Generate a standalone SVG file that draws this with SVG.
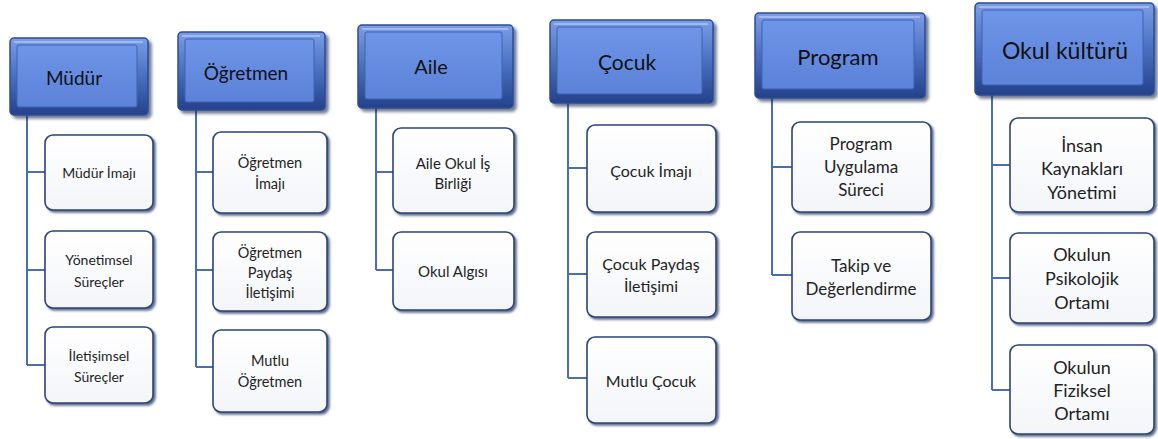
<svg xmlns="http://www.w3.org/2000/svg" width="1158" height="439" viewBox="0 0 1158 439">
<defs>
<linearGradient id="edge" x1="0" y1="0" x2="0" y2="1">
<stop offset="0" stop-color="#7c9de6"/>
<stop offset="0.5" stop-color="#4a6fc0"/>
<stop offset="1" stop-color="#24418a"/>
</linearGradient>
<linearGradient id="face" x1="0" y1="0" x2="0" y2="1">
<stop offset="0" stop-color="#6f95e8"/>
<stop offset="1" stop-color="#5c82d9"/>
</linearGradient>
<linearGradient id="card" x1="0" y1="0" x2="0" y2="1">
<stop offset="0" stop-color="#ffffff"/>
<stop offset="1" stop-color="#f3f5f9"/>
</linearGradient>
<filter id="sh" x="-10%" y="-10%" width="125%" height="125%">
<feDropShadow dx="2" dy="2" stdDeviation="1.2" flood-color="#1c2f5c" flood-opacity="0.7"/>
</filter>
<filter id="hsh" x="-10%" y="-10%" width="125%" height="130%">
<feDropShadow dx="3" dy="3" stdDeviation="1.5" flood-color="#17264a" flood-opacity="0.6"/>
</filter>
</defs>
<style>
.hout{fill:url(#edge);stroke:#2b4c95;stroke-width:1.5;filter:url(#hsh)}
.hin{fill:url(#face);stroke:#3f62b3;stroke-width:1}
.hl{stroke:#b6ccf5;stroke-width:1.5;fill:none;opacity:.85}
.ht{font-family:Lato,"Open Sans","Liberation Sans",sans-serif;fill:#111;text-anchor:middle;dominant-baseline:central}
.card{fill:url(#card);stroke:#2b4476;stroke-width:1.6;filter:url(#sh)}
.ct{font-family:Lato,"Open Sans","Liberation Sans",sans-serif;fill:#1f1f1f;text-anchor:middle;dominant-baseline:central}
.con{stroke:#4a6db3;stroke-width:2;fill:none}
</style>
<rect width="1158" height="439" fill="#ffffff"/>

<g id="connectors">
<path class="con" d="M27 115 V365 M27 172 H45 M27 270 H45 M27 365 H45"/>
<path class="con" d="M196 110 V367 M196 172 H213 M196 270 H213 M196 367 H213"/>
<path class="con" d="M376 108 V270 M376 172 H393 M376 270 H393"/>
<path class="con" d="M568 103 V378 M568 168 H587 M568 274 H587 M568 378 H587"/>
<path class="con" d="M772 98 V275 M772 167 H792 M772 275 H792"/>
<path class="con" d="M992 95 V390 M992 165 H1010 M992 278 H1010 M992 390 H1010"/>
</g>

<g id="h-mudur">
<rect class="hout" x="10" y="38" width="138" height="77" rx="4"/>
<rect class="hin" x="17" y="45" width="120" height="62" rx="2"/>
<path class="hl" d="M14 42 H143"/>
<text class="ht" x="74" y="77" font-size="19">Müdür</text>
</g>
<g id="h-ogretmen">
<rect class="hout" x="178" y="32" width="147" height="78" rx="4"/>
<rect class="hin" x="185" y="39" width="129" height="63" rx="2"/>
<path class="hl" d="M182 36 H320"/>
<text class="ht" x="246" y="72" font-size="19">Öğretmen</text>
</g>
<g id="h-aile">
<rect class="hout" x="358" y="25" width="155" height="83" rx="4"/>
<rect class="hin" x="365" y="32" width="137" height="67" rx="2"/>
<path class="hl" d="M362 29 H508"/>
<text class="ht" x="431" y="66" font-size="20">Aile</text>
</g>
<g id="h-cocuk">
<rect class="hout" x="550" y="20" width="163" height="83" rx="4"/>
<rect class="hin" x="557" y="27" width="145" height="67" rx="2"/>
<path class="hl" d="M554 24 H708"/>
<text class="ht" x="627" y="61" font-size="21">Çocuk</text>
</g>
<g id="h-program">
<rect class="hout" x="755" y="13" width="170" height="85" rx="4"/>
<rect class="hin" x="762" y="20" width="152" height="69" rx="2"/>
<path class="hl" d="M759 17 H920"/>
<text class="ht" x="838" y="56" font-size="22">Program</text>
</g>
<g id="h-okul">
<rect class="hout" x="975" y="3" width="179" height="92" rx="4"/>
<rect class="hin" x="982" y="10" width="161" height="75" rx="2"/>
<path class="hl" d="M979 7 H1149"/>
<text class="ht" x="1065" y="50" font-size="23">Okul kültürü</text>
</g>

<g id="c-mudur-imaji">
<rect class="card" x="45" y="135" width="108" height="75" rx="8"/>
<text class="ct" x="99" y="172" font-size="14">Müdür İmajı</text>
</g>
<g id="c-yonetimsel">
<rect class="card" x="45" y="231" width="108" height="77" rx="8"/>
<text class="ct" x="99" y="259" font-size="14">Yönetimsel</text>
<text class="ct" x="99" y="281" font-size="14">Süreçler</text>
</g>
<g id="c-iletisimsel">
<rect class="card" x="45" y="327" width="108" height="76" rx="8"/>
<text class="ct" x="99" y="355" font-size="14">İletişimsel</text>
<text class="ct" x="99" y="376" font-size="14">Süreçler</text>
</g>

<g id="c-ogretmen-imaji">
<rect class="card" x="213" y="132" width="114" height="81" rx="8"/>
<text class="ct" x="270" y="162" font-size="14.5">Öğretmen</text>
<text class="ct" x="270" y="183" font-size="14.5">İmajı</text>
</g>
<g id="c-ogretmen-paydas">
<rect class="card" x="213" y="232" width="114" height="79" rx="8"/>
<text class="ct" x="270" y="252" font-size="14.5">Öğretmen</text>
<text class="ct" x="270" y="272" font-size="14.5">Paydaş</text>
<text class="ct" x="270" y="292" font-size="14.5">İletişimi</text>
</g>
<g id="c-mutlu-ogretmen">
<rect class="card" x="213" y="330" width="114" height="82" rx="8"/>
<text class="ct" x="270" y="360" font-size="14.5">Mutlu</text>
<text class="ct" x="270" y="381" font-size="14.5">Öğretmen</text>
</g>

<g id="c-aile-okul">
<rect class="card" x="393" y="128" width="121" height="85" rx="8"/>
<text class="ct" x="453" y="163" font-size="15">Aile Okul İş</text>
<text class="ct" x="453" y="183" font-size="15">Birliği</text>
</g>
<g id="c-okul-algisi">
<rect class="card" x="393" y="232" width="121" height="78" rx="8"/>
<text class="ct" x="453" y="271" font-size="15">Okul Algısı</text>
</g>

<g id="c-cocuk-imaji">
<rect class="card" x="587" y="125" width="129" height="87" rx="8"/>
<text class="ct" x="651" y="170" font-size="16">Çocuk İmajı</text>
</g>
<g id="c-cocuk-paydas">
<rect class="card" x="587" y="232" width="129" height="85" rx="8"/>
<text class="ct" x="651" y="263" font-size="16">Çocuk Paydaş</text>
<text class="ct" x="651" y="285" font-size="16">İletişimi</text>
</g>
<g id="c-mutlu-cocuk">
<rect class="card" x="587" y="337" width="129" height="86" rx="8"/>
<text class="ct" x="651" y="380" font-size="16">Mutlu Çocuk</text>
</g>

<g id="c-program-uygulama">
<rect class="card" x="792" y="122" width="139" height="90" rx="8"/>
<text class="ct" x="861" y="143" font-size="17">Program</text>
<text class="ct" x="861" y="166" font-size="17">Uygulama</text>
<text class="ct" x="861" y="189" font-size="17">Süreci</text>
</g>
<g id="c-takip">
<rect class="card" x="792" y="232" width="139" height="88" rx="8"/>
<text class="ct" x="861" y="265" font-size="17">Takip ve</text>
<text class="ct" x="861" y="288" font-size="17">Değerlendirme</text>
</g>

<g id="c-insan">
<rect class="card" x="1010" y="118" width="144" height="94" rx="8"/>
<text class="ct" x="1082" y="145" font-size="18">İnsan</text>
<text class="ct" x="1082" y="168" font-size="18">Kaynakları</text>
<text class="ct" x="1082" y="192" font-size="18">Yönetimi</text>
</g>
<g id="c-psikolojik">
<rect class="card" x="1010" y="233" width="144" height="90" rx="8"/>
<text class="ct" x="1082" y="254" font-size="18">Okulun</text>
<text class="ct" x="1082" y="278" font-size="18">Psikolojik</text>
<text class="ct" x="1082" y="302" font-size="18">Ortamı</text>
</g>
<g id="c-fiziksel">
<rect class="card" x="1010" y="345" width="144" height="89" rx="8"/>
<text class="ct" x="1082" y="367" font-size="18">Okulun</text>
<text class="ct" x="1082" y="390" font-size="18">Fiziksel</text>
<text class="ct" x="1082" y="413" font-size="18">Ortamı</text>
</g>
</svg>
